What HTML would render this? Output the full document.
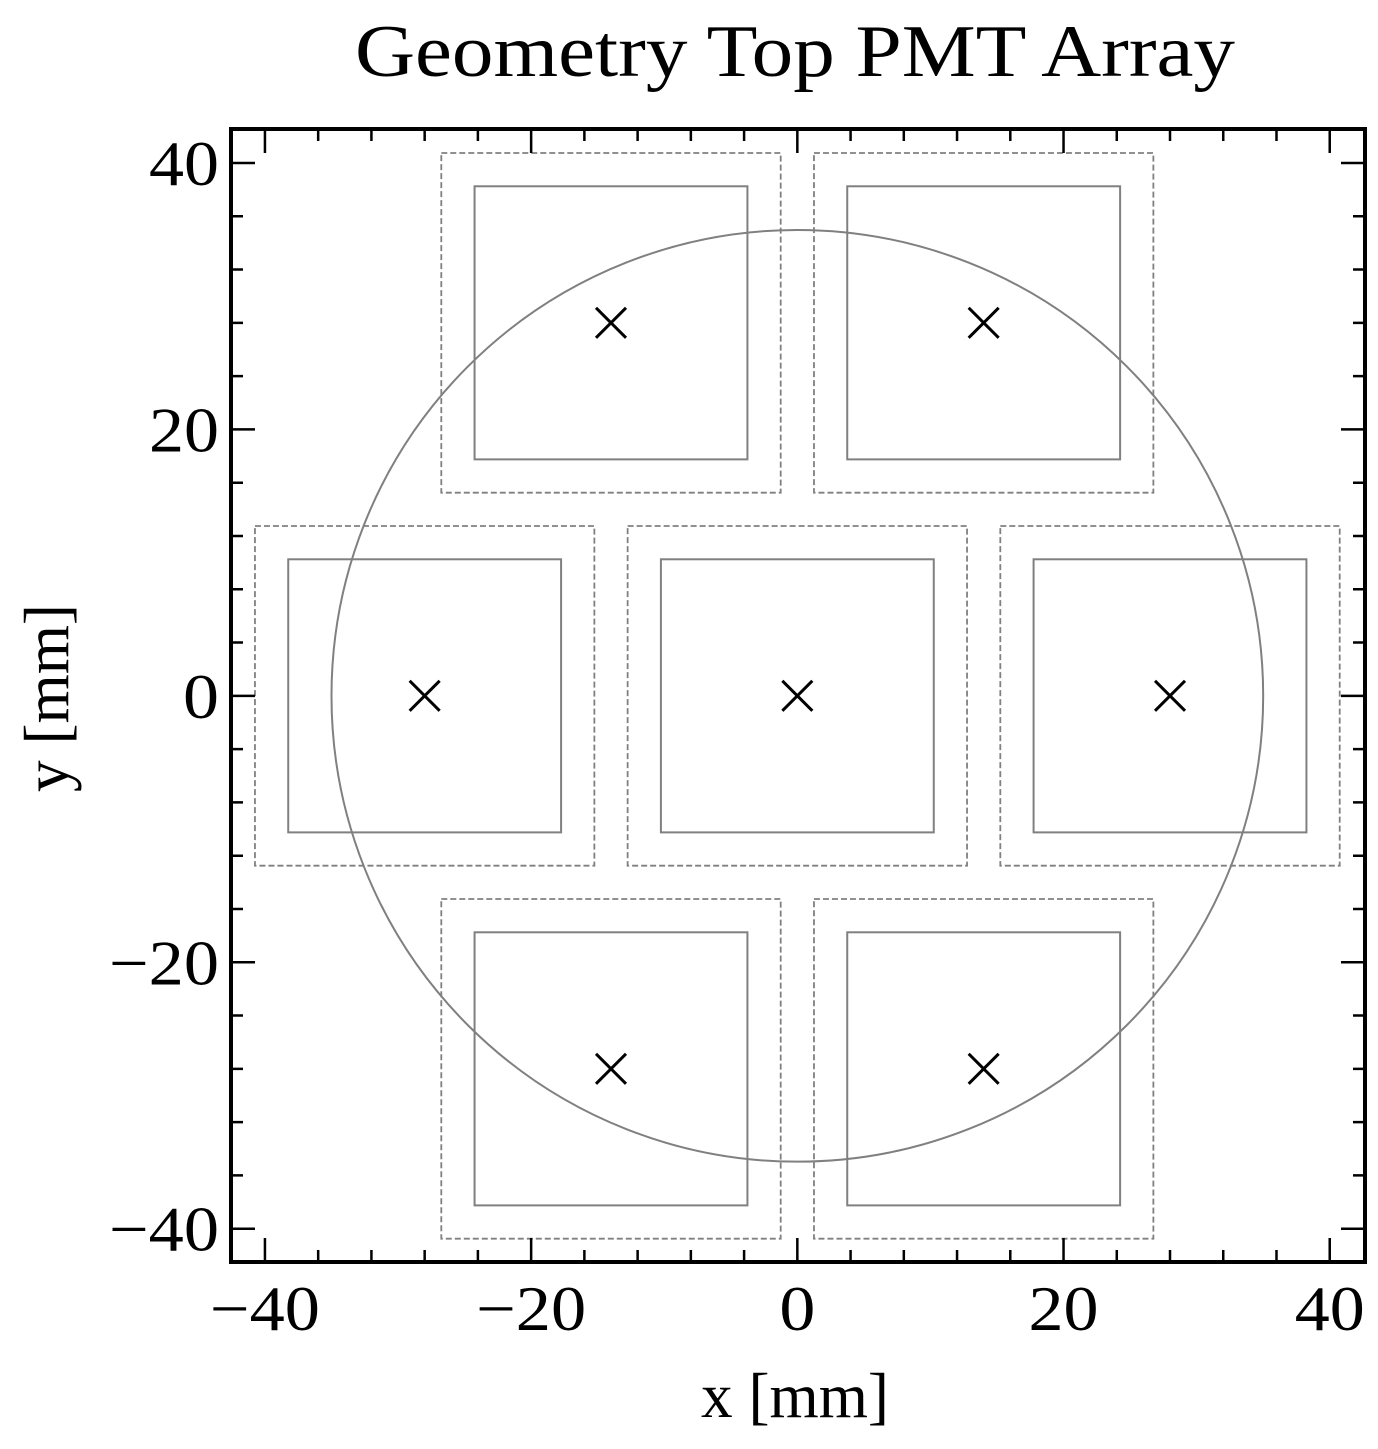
<!DOCTYPE html>
<html><head><meta charset="utf-8"><style>
body{margin:0;background:#fff}
svg text{font-family:"Liberation Serif",serif;fill:#000}
</style></head><body>
<svg width="1378" height="1444" viewBox="0 0 1378 1444" xmlns="http://www.w3.org/2000/svg">
<g id="marks"></g>
<rect x="231" y="129" width="1134" height="1133" fill="none" stroke="#000" stroke-width="4"/>
<g id="ticks"></g>
<text x="795" y="76" font-size="74" text-anchor="middle" textLength="880" lengthAdjust="spacingAndGlyphs">Geometry Top PMT Array</text>
<text x="795" y="1417" font-size="64" text-anchor="middle" textLength="188" lengthAdjust="spacingAndGlyphs">x [mm]</text>
<text transform="translate(68,698) rotate(-90)" font-size="64" text-anchor="middle" textLength="188" lengthAdjust="spacingAndGlyphs">y [mm]</text>
</svg>
<script>
const pmtX=[0,28,-28,14,-14,14,-14];
const pmtY=[0,0,0,28,28,-28,-28];
const innerHalf=[10.25,10.25,10.25,10.25,10.25,10.25,10.25];
const outerHalf=[12.75,12.75,12.75,12.75,12.75,12.75,12.75];
const circleR=[35];
const majorTicks=[-40,-20,0,20,40];
const tickLabels=["\u221240","\u221220","0","20","40"];
const minorTicks=[-40,-36,-32,-28,-24,-20,-16,-12,-8,-4,0,4,8,12,16,20,24,28,32,36,40];
const xmin=-42.55,xmax=42.65,ymin=-42.5,ymax=42.55;
const L=231,R=1365,T=129,B=1262;
const sx=v=>L+(v-xmin)/(xmax-xmin)*(R-L);
const sy=v=>B-(v-ymin)/(ymax-ymin)*(B-T);
const NS="http://www.w3.org/2000/svg";
const g=document.getElementById('marks'),tg=document.getElementById('ticks');
function mk(tag,attrs,parent){const e=document.createElementNS(NS,tag);for(const k in attrs)e.setAttribute(k,attrs[k]);parent.appendChild(e);return e;}
for(let i=0;i<pmtX.length;i++){
  let h=outerHalf[i];
  let e=mk('rect',{x:sx(pmtX[i]-h),y:sy(pmtY[i]+h),width:sx(pmtX[i]+h)-sx(pmtX[i]-h),height:sy(pmtY[i]-h)-sy(pmtY[i]+h),fill:'none',stroke:'#808080','stroke-width':1.8,'stroke-dasharray':'6,3'},g);
  
  
  h=innerHalf[i];
  e=mk('rect',{x:sx(pmtX[i]-h),y:sy(pmtY[i]+h),width:sx(pmtX[i]+h)-sx(pmtX[i]-h),height:sy(pmtY[i]-h)-sy(pmtY[i]+h),fill:'none',stroke:'#808080','stroke-width':2},g);
  
  
  const cx=sx(pmtX[i]),cy=sy(pmtY[i]),m=15;
  e=mk('path',{d:`M${cx-m},${cy-m}L${cx+m},${cy+m}M${cx-m},${cy+m}L${cx+m},${cy-m}`,stroke:'#000','stroke-width':3,fill:'none'},g);
  
  
}
const c=mk('circle',{cx:sx(0),cy:sy(0),r:sx(circleR[0])-sx(0),fill:'none',stroke:'#808080','stroke-width':2},g);


let d='';
minorTicks.forEach(v=>{const x=sx(v),y=sy(v);d+=`M${x},${B}v-12M${x},${T}v12M${L},${y}h12M${R},${y}h-12`;});
majorTicks.forEach(v=>{const x=sx(v),y=sy(v);d+=`M${x},${B}v-24M${x},${T}v24M${L},${y}h24M${R},${y}h-24`;});
const tp=mk('path',{d:d,stroke:'#000','stroke-width':2.5,fill:'none'},tg);


majorTicks.forEach((v,i)=>{
  const s=tickLabels[i];
  const w=s.length===1?36:(s[0]==='\u2212'?110:70);
  let t=mk('text',{x:sx(v),y:B+68,'font-size':64,'text-anchor':'middle',textLength:w,lengthAdjust:'spacingAndGlyphs'},tg);t.textContent=s;
  
  
  t=mk('text',{x:L-12-w,y:sy(v)+22,'font-size':64,'text-anchor':'start',textLength:w,lengthAdjust:'spacingAndGlyphs'},tg);t.textContent=s;
  
  
});
</script>
</body></html>
